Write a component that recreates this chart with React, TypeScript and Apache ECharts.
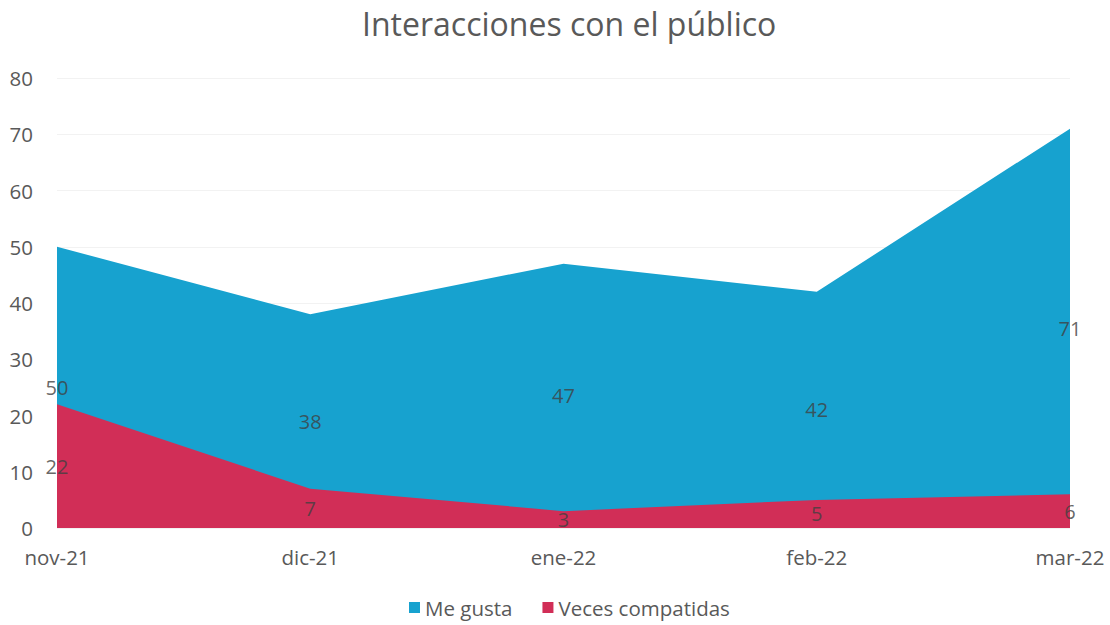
import React, { useEffect, useRef } from "react";
import * as echarts from "echarts";

const categories = ["nov-21", "dic-21", "ene-22", "feb-22", "mar-22"];
const meGusta = [50, 38, 47, 42, 71];
const vecesCompartidas = [22, 7, 3, 5, 6];
const seriesNames = ["Me gusta", "Veces compatidas"];
const colors = ["#17A2CF", "#D12E57"];

const FONT = "'Open Sans', 'Noto Sans', sans-serif";

function labelData(values: number[]) {
  return values.map((v, i) => [i, v / 2, v]);
}

export default function App() {
  const ref = useRef<HTMLDivElement>(null);
  useEffect(() => {
    if (!ref.current) return;
    const chart = echarts.init(ref.current, undefined, { renderer: "svg" });
    const labelSeries = (values: number[]) => ({
      type: "scatter",
      data: labelData(values),
      symbolSize: 0,
      silent: true,
      z: 10,
      legendHoverLink: false,
      label: {
        show: true,
        position: "inside",
        formatter: (p: any) => String(p.data[2]),
        color: "#404040",
        fontSize: 20,
        fontFamily: FONT,
      },
    });
    chart.setOption({
      animation: false,
      backgroundColor: "#ffffff",
      title: {
        text: "Interacciones con el público",
        left: 357,
        top: 2,
        textStyle: { color: "#595959", fontSize: 32, fontWeight: "normal", fontFamily: FONT },
      },
      legend: {
        bottom: 2,
        left: 404,
        icon: "rect",
        itemWidth: 11,
        itemHeight: 11,
        itemGap: 30,
        data: seriesNames,
        textStyle: { color: "#595959", fontSize: 20.5, fontFamily: FONT },
      },
      grid: { left: 57, right: 40, top: 78, bottom: 97, containLabel: false },
      xAxis: {
        type: "category",
        data: categories,
        boundaryGap: false,
        axisLine: { show: false },
        axisTick: { show: false },
        axisLabel: { color: "#595959", fontSize: 20.5, fontFamily: FONT, margin: 18 },
      },
      yAxis: {
        type: "value",
        min: 0,
        max: 80,
        interval: 10,
        axisLine: { show: false },
        axisTick: { show: false },
        splitLine: { lineStyle: { color: "#f2f2f2", width: 1 } },
        axisLabel: { color: "#595959", fontSize: 20.5, fontFamily: FONT, margin: 24 },
      },
      series: [
        {
          name: seriesNames[0],
          type: "line",
          data: meGusta,
          symbol: "none",
          lineStyle: { width: 0 },
          areaStyle: { color: colors[0], opacity: 1 },
          itemStyle: { color: colors[0] },
          z: 2,
        },
        {
          name: seriesNames[1],
          type: "line",
          data: vecesCompartidas,
          symbol: "none",
          lineStyle: { width: 0 },
          areaStyle: { color: colors[1], opacity: 1 },
          itemStyle: { color: colors[1] },
          z: 3,
        },
        labelSeries(meGusta),
        labelSeries(vecesCompartidas),
      ],
    });
    return () => chart.dispose();
  }, []);
  return <div ref={ref} style={{ width: 1110, height: 625, position: "absolute", left: 0, top: 0 }} />;
}
